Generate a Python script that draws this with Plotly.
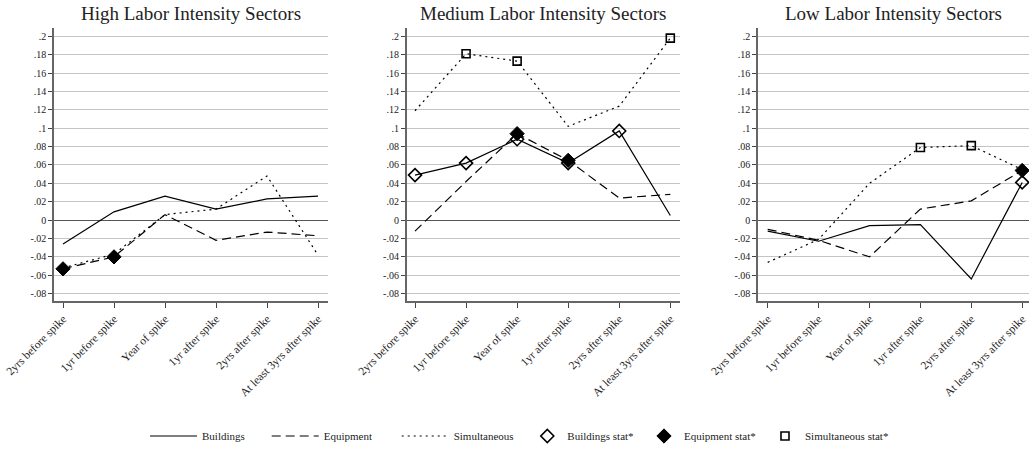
import plotly.graph_objects as go

categories = ["2yrs before spike", "1yr before spike", "Year of spike",
              "1yr after spike", "2yrs after spike", "At least 3yrs after spike"]
panel_titles = ["High Labor Intensity Sectors", "Medium Labor Intensity Sectors",
                "Low Labor Intensity Sectors"]

# High labor intensity
high_buildings = [-0.026, 0.009, 0.026, 0.012, 0.023, 0.026]
high_equipment = [-0.053, -0.040, 0.006, -0.022, -0.013, -0.017]
high_simult = [-0.052, -0.037, 0.006, 0.012, 0.048, -0.038]
high_b_sig = [0, 0, 0, 0, 0, 0]
high_e_sig = [1, 1, 0, 0, 0, 0]
high_s_sig = [0, 0, 0, 0, 0, 0]

# Medium labor intensity
med_buildings = [0.049, 0.062, 0.088, 0.062, 0.097, 0.005]
med_equipment = [-0.012, 0.042, 0.094, 0.065, 0.024, 0.028]
med_simult = [0.119, 0.181, 0.173, 0.102, 0.124, 0.198]
med_b_sig = [1, 1, 1, 1, 1, 0]
med_e_sig = [0, 0, 1, 1, 0, 0]
med_s_sig = [0, 1, 1, 0, 0, 1]

# Low labor intensity
low_buildings = [-0.012, -0.023, -0.006, -0.005, -0.064, 0.041]
low_equipment = [-0.010, -0.022, -0.040, 0.012, 0.021, 0.054]
low_simult = [-0.046, -0.021, 0.040, 0.079, 0.081, 0.055]
low_b_sig = [0, 0, 0, 0, 0, 1]
low_e_sig = [0, 0, 0, 0, 0, 1]
low_s_sig = [0, 0, 0, 1, 1, 0]

y_tickvals = [0.2, 0.18, 0.16, 0.14, 0.12, 0.1, 0.08, 0.06, 0.04, 0.02, 0,
              -0.02, -0.04, -0.06, -0.08]
y_ticktext = [".2", ".18", ".16", ".14", ".12", ".1", ".08", ".06", ".04", ".02", "0",
              "-.02", "-.04", "-.06", "-.08"]

panels = [
    (high_buildings, high_equipment, high_simult, high_b_sig, high_e_sig, high_s_sig),
    (med_buildings, med_equipment, med_simult, med_b_sig, med_e_sig, med_s_sig),
    (low_buildings, low_equipment, low_simult, low_b_sig, low_e_sig, low_s_sig),
]

W, H = 1029, 449
FONT = "Liberation Serif"
# pixel layout of each panel: (left, right, first-category px, spacing px)
px = [(54, 328, 63, 51.0), (406.7, 680, 415, 51.06), (758, 1029, 767.7, 50.9)]
y_top_px, y_bot_px = 28, 301
y_range = [-0.088, 0.209]

# legend item left edges (px) and symbol widths
legend_x_px = [145, 266.7, 396.7, 527.3, 644, 765]
legend_itemwidth = [47, 47, 47, 30, 30, 30]
legend_y_px = 436

fig = go.Figure()
x_idx = list(range(len(categories)))

line_specs = [("Buildings", "solid"), ("Equipment", "9px,5px"), ("Simultaneous", "2px,4px")]
marker_specs = [("Buildings stat*", "diamond-open", 10, 1.6),
                ("Equipment stat*", "diamond", 11, 1.0),
                ("Simultaneous stat*", "square-open", 8, 1.6)]

def legend_name(i):
    return "legend" if i == 0 else f"legend{i+1}"

for p, data in enumerate(panels):
    xa = "x" if p == 0 else f"x{p+1}"
    ya = "y" if p == 0 else f"y{p+1}"
    series = data[:3]
    sigs = data[3:]
    for k, ((name, dash), vals) in enumerate(zip(line_specs, series)):
        fig.add_trace(go.Scatter(x=x_idx, y=vals, mode="lines", name=name,
                                 line=dict(color="black", width=1.2, dash=dash),
                                 xaxis=xa, yaxis=ya, showlegend=(p == 0),
                                 legend=legend_name(k)))
    for k, ((name, sym, size, lw), vals, sig) in enumerate(zip(marker_specs, series, sigs)):
        xs = [i for i, s in zip(x_idx, sig) if s]
        ys = [v for v, s in zip(vals, sig) if s]
        fig.add_trace(go.Scatter(x=xs if xs else [None], y=ys if ys else [None],
                                 mode="markers", name=name,
                                 marker=dict(symbol=sym, size=size, color="black",
                                             line=dict(color="black", width=lw)),
                                 xaxis=xa, yaxis=ya, showlegend=(p == 0),
                                 legend=legend_name(k + 3)))

layout = dict(
    width=W, height=H,
    margin=dict(l=0, r=0, t=0, b=0, autoexpand=False),
    paper_bgcolor="white", plot_bgcolor="white",
    font=dict(family=FONT, color="#222", size=10),
    showlegend=True,
)
for i, (lx, iw) in enumerate(zip(legend_x_px, legend_itemwidth)):
    layout[legend_name(i)] = dict(
        orientation="h", x=lx / W, xanchor="left", y=(H - legend_y_px) / H,
        yanchor="middle", itemwidth=iw, bgcolor="rgba(0,0,0,0)",
        font=dict(family=FONT, size=11, color="#222"))

annotations = []
for p, (l, r, c0, dx) in enumerate(px):
    sfx = "" if p == 0 else str(p + 1)
    xr = [(l - c0) / dx, (r - c0) / dx]
    layout["xaxis" + sfx] = dict(
        domain=[l / W, r / W], range=xr, anchor="y" + sfx, automargin=False,
        tickmode="array", tickvals=x_idx, ticktext=categories, tickangle=-45,
        ticks="outside", ticklen=5, tickcolor="#444", showgrid=False,
        showline=True, linecolor="#666", linewidth=1.5, zeroline=False,
        tickfont=dict(family=FONT, size=11.5, color="#222"), fixedrange=True)
    layout["yaxis" + sfx] = dict(
        domain=[(H - y_bot_px) / H, (H - y_top_px) / H], range=y_range, anchor="x" + sfx,
        automargin=False,
        tickmode="array", tickvals=y_tickvals, ticktext=y_ticktext,
        ticks="outside", ticklen=4, tickcolor="#444", showgrid=True,
        gridcolor="#c4c4c4", gridwidth=1, zeroline=True, zerolinecolor="#555",
        zerolinewidth=1.3, showline=True, linecolor="#666", linewidth=1.5,
        tickfont=dict(family=FONT, size=10, color="#222"), fixedrange=True)
    annotations.append(dict(text=panel_titles[p], x=(l + r) / 2 / W, y=(H - 13) / H,
                            xref="paper", yref="paper", showarrow=False,
                            xanchor="center", yanchor="middle",
                            font=dict(family=FONT, size=19, color="#222")))
layout["annotations"] = annotations
fig.update_layout(**layout)

fig.write_html("out.html", config={"displayModeBar": False},
               post_script="document.body.style.margin='0';document.body.style.overflow='hidden';")
